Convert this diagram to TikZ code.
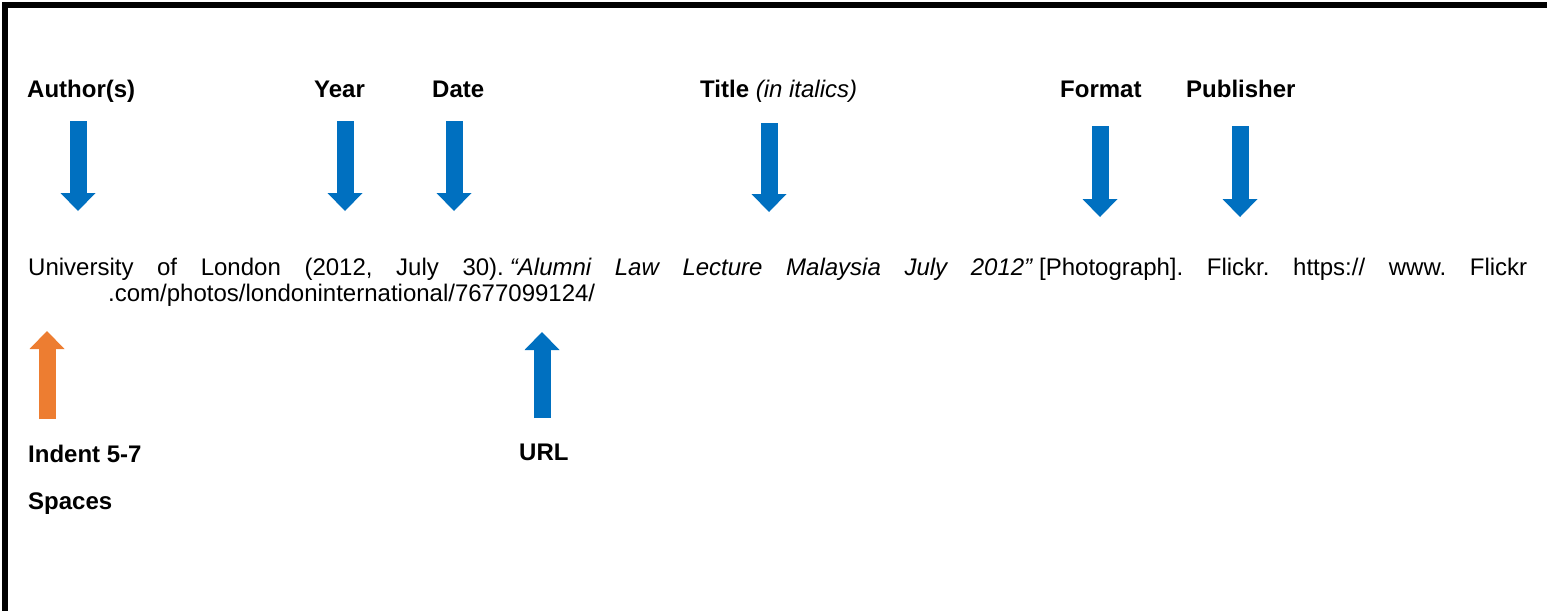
\documentclass[tikz,border=0pt]{standalone}
\usepackage{fontspec}
\setmainfont{Liberation Sans}
\usetikzlibrary{arrows.meta}
\definecolor{refblue}{HTML}{0070C0}
\definecolor{reforange}{HTML}{ED7D31}

\begin{document}
\begin{tikzpicture}[x=1pt,y=-1pt,
    fieldname/.style={anchor=base west,inner sep=0pt,font=\fontsize{24}{28}\selectfont\bfseries},
    reftext/.style={anchor=base west,inner sep=0pt,font=\fontsize{24}{28}\selectfont\frenchspacing},
    blockarrow/.style={line width=17pt,-{Triangle[width=35pt,length=18pt,line width=0pt]}}]
    \useasboundingbox (0,0) rectangle (1547,611);

    % frame (top and left only)
    \draw[line width=5.5pt] (1547,5) -- (5,5) -- (5,611);

    % field names
    \node[fieldname] (author) at (27,97) {Author(s)};
    \node[fieldname] (year) at (314,97) {Year};
    \node[fieldname] (date) at (432,97) {Date};
    \node[fieldname] (title) at (700,97) {Title {\mdseries\itshape (in italics)}};
    \node[fieldname] (format) at (1060,97) {Format};
    \node[fieldname] (publisher) at (1186,97) {Publisher};

    % arrow ends
    \coordinate (authortop) at (78,121);
    \coordinate (authortip) at (78,211);
    \coordinate (yeartop) at (345,121);
    \coordinate (yeartip) at (345,211);
    \coordinate (datetop) at (454,121);
    \coordinate (datetip) at (454,211);
    \coordinate (titletop) at (769,123);
    \coordinate (titletip) at (769,212);
    \coordinate (formattop) at (1100,126);
    \coordinate (formattip) at (1100,217);
    \coordinate (publishertop) at (1240,126);
    \coordinate (publishertip) at (1240,217);

    \draw[blockarrow, refblue] (authortop) -- (authortip);
    \draw[blockarrow, refblue] (yeartop) -- (yeartip);
    \draw[blockarrow, refblue] (datetop) -- (datetip);
    \draw[blockarrow, refblue] (titletop) -- (titletip);
    \draw[blockarrow, refblue] (formattop) -- (formattip);
    \draw[blockarrow, refblue] (publishertop) -- (publishertip);

    % the reference itself
    \node[reftext] (refline) at (28,275) {\makebox[1499pt][s]{University of London (2012, July 30).\kern6pt\textit{“Alumni Law Lecture Malaysia July 2012”}\kern6pt[Photograph]. Flickr. https:// www. Flickr}};
    \node[reftext] (urlline) at (108,301) {.com/photos/londoninternational/7677099124/};

    % indent and URL
    \coordinate (indentbase) at (47,419);
    \coordinate (indenttip) at (47,331);
    \coordinate (urlbase) at (542,418);
    \coordinate (urltip) at (542,332);

    \draw[blockarrow, reforange] (indentbase) -- (indenttip);
    \draw[blockarrow, refblue] (urlbase) -- (urltip);

    \node[fieldname] (indent) at (28,462) {Indent 5-7};
    \node[fieldname] (spaces) at (28,509) {Spaces};
    \node[fieldname] (url) at (519,460) {URL};
\end{tikzpicture}
\end{document}
